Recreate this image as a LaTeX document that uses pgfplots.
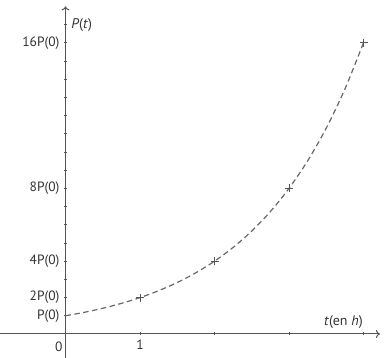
\documentclass[border=0pt]{standalone}
\usepackage{fontspec}
\setmainfont{PT Sans}
\usepackage{pgfplots}
\pgfplotsset{compat=1.18}
\usetikzlibrary{arrows.meta}
\definecolor{axgray}{HTML}{555555}
\definecolor{crvgray}{HTML}{686868}
\definecolor{txtgray}{HTML}{333333}
\begin{document}
\begin{tikzpicture}
\useasboundingbox (-65.5pt,-24pt) rectangle (319.5pt,334pt);
\begin{axis}[
  anchor=origin, at={(0pt,0pt)},
  x=74.5pt, y=18.2pt,
  xmin=-0.88, xmax=4.22, ymin=-1.35, ymax=18.0,
  axis lines=middle,
  axis line style={draw=axgray, line width=1pt, -{To[length=4pt,width=8pt]}},
  /pgf/number format/assume math mode=true,
  xtick={1,2,3,4}, xticklabels={1,,,},
  ytick={1,2,4,8,16}, yticklabels={P(0),2P(0),4P(0),8P(0),16P(0)},
  minor ytick={3,5,6,7,9,10,11,12,13,14,15,17},
  tick align=center,
  major tick length=3pt, minor tick length=3pt,
  tick style={draw=axgray, line width=0.6pt},
  ticklabel style={font=\fontsize{13.5}{15}\selectfont, text=txtgray},
  xticklabel style={yshift=-1pt},
  yticklabel style={xshift=-1pt},
  clip=false,
]
\addplot[crvgray, line width=1.2pt, dash pattern=on 5.5pt off 3.5pt, smooth, mark=+, mark size=4pt,
  mark options={solid, draw=axgray, line width=0.9pt}, mark indices={5,9,13,17}]
  coordinates {
  (0,1) (0.25,1.189) (0.5,1.414) (0.75,1.682) (1,2) (1.25,2.378) (1.5,2.828) (1.75,3.364)
  (2,4) (2.25,4.757) (2.5,5.657) (2.75,6.727) (3,8) (3.25,9.514) (3.5,11.314) (3.75,13.454) (4,16)
  };
\node[font=\fontsize{13.5}{15}\selectfont, text=txtgray] at (axis cs:-0.09,-0.7) {0};
\node[font=\fontsize{14}{16}\selectfont, text=txtgray, anchor=west] at (axis cs:0.03,17.0) {\textit{P}(\textit{t})};
\node[font=\fontsize{14}{16}\selectfont, text=txtgray] at (axis cs:3.73,0.65) {\textit{t}(en \textit{h})};
\end{axis}
\end{tikzpicture}
\end{document}
